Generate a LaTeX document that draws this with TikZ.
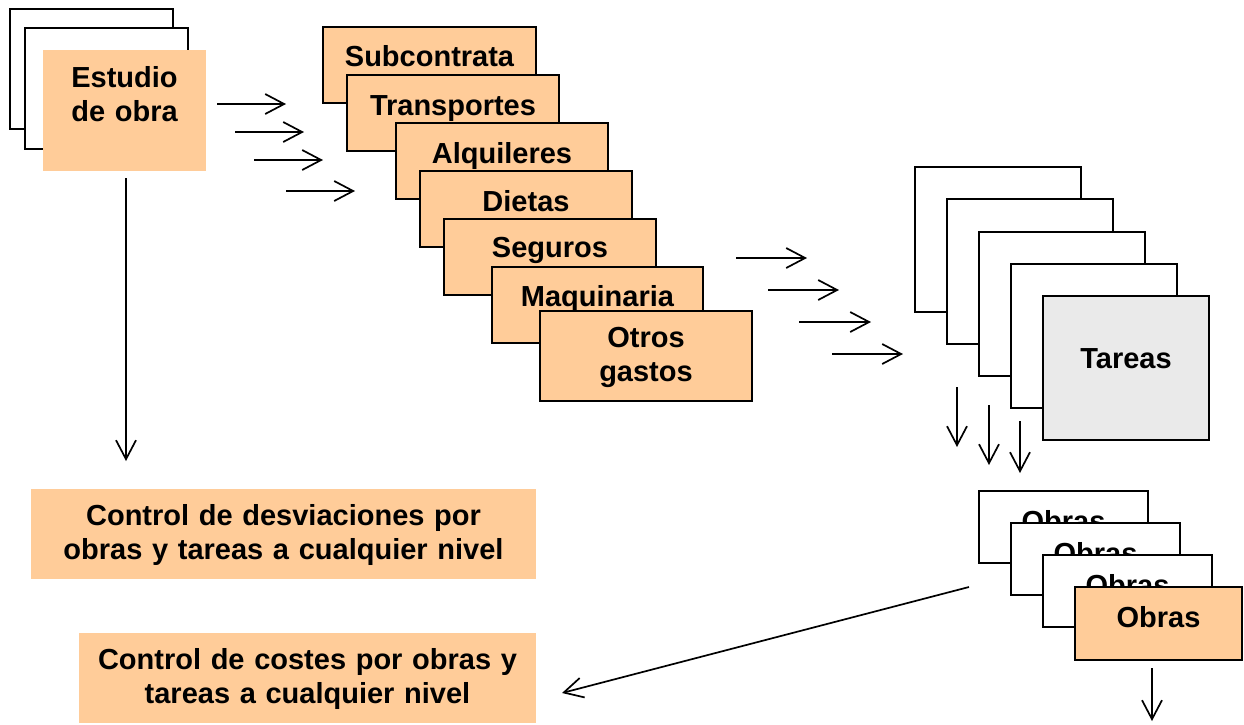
\documentclass[tikz,border=0pt]{standalone}
\usepackage{fontspec}
\setmainfont{Liberation Sans}
\usetikzlibrary{arrows.meta}
\newdimen\px \px=0.5pt
\definecolor{boxorange}{HTML}{FFCC99}
\definecolor{boxgray}{HTML}{EAEAEA}
\begin{document}
\begin{tikzpicture}[x=0.5pt,y=-0.5pt,
  every node/.style={inner sep=0pt, outer sep=0pt, anchor=north west,
    font=\fontsize{14.5}{17.4}\selectfont\bfseries, align=center},
  wbox/.style n args={3}{text width=#1\px, text height=#2\px, text depth=#3\px},
  blank/.style={draw=black, line width=1.1pt, fill=white},
  costbox/.style={draw=black, line width=1.1pt, fill=boxorange},
  softbox/.style={fill=boxorange},
  graybox/.style={draw=black, line width=1.1pt, fill=boxgray},
  conn/.style={line width=0.85pt, -{Straight Barb[length=9.5pt,width=10pt]}}]
\useasboundingbox (0,0) rectangle (1244,724);

% Estudio de obra stack
\node[blank, wbox={163}{120}{0}] (est1) at (10,9) {};
\node[blank, wbox={163}{121}{0}] (est2) at (25,28) {};
\node[softbox, wbox={163}{37}{84}] (est) at (43,50) {Estudio\\de obra};

% cost stack
\node[costbox, wbox={213}{39}{37}] (sub) at (323,27) {Subcontrata};
\node[costbox, wbox={212}{40}{36}] (tra) at (347,75) {Transportes};
\node[costbox, wbox={212}{40}{36}] (alq) at (396,123) {Alquileres};
\node[costbox, wbox={212}{40}{36}] (die) at (420,171) {Dietas};
\node[costbox, wbox={212}{38}{38}] (seg) at (444,219) {Seguros};
\node[costbox, wbox={211}{39}{37}] (maq) at (492,267) {Maquinaria};
\node[costbox, wbox={212}{36}{54}] (otr) at (540,311) {Otros\\gastos};

% Tareas stack
\node[blank, wbox={166}{145}{0}] (ta1) at (915,167) {};
\node[blank, wbox={166}{145}{0}] (ta2) at (947,199) {};
\node[blank, wbox={166}{144}{0}] (ta3) at (979,232) {};
\node[blank, wbox={166}{144}{0}] (ta4) at (1011,264) {};
\node[graybox, wbox={166}{72}{72}] (tar) at (1043,296) {Tareas};

% Obras stack
\node[blank, wbox={169}{40}{32}] (ob1) at (979,491) {Obras};
\node[blank, wbox={169}{40}{32}] (ob2) at (1011,523) {Obras};
\node[blank, wbox={169}{40}{32}] (ob3) at (1043,555) {Obras};
\node[costbox, wbox={167}{40}{33}] (ob4) at (1075,587) {Obras};

% control boxes
\node[softbox, wbox={505}{36}{54}] (cdes) at (31,489) {Control de desviaciones por\\obras y tareas a cualquier nivel};
\node[softbox, wbox={457}{36}{54}] (ccos) at (79,633) {Control de costes por obras y\\tareas a cualquier nivel};

% arrow end points
\coordinate (e1s) at (217,104);  \coordinate (e1e) at (286,104);
\coordinate (e2s) at (235,132);  \coordinate (e2e) at (304,132);
\coordinate (e3s) at (254,160);  \coordinate (e3e) at (323,160);
\coordinate (e4s) at (286,191);  \coordinate (e4e) at (355,191);
\coordinate (c1s) at (736,258);  \coordinate (c1e) at (807,258);
\coordinate (c2s) at (768,290);  \coordinate (c2e) at (839,290);
\coordinate (c3s) at (799,322);  \coordinate (c3e) at (871,322);
\coordinate (c4s) at (832,354);  \coordinate (c4e) at (903,354);
\coordinate (d0s) at (126,178);  \coordinate (d0e) at (126,461);
\coordinate (d1s) at (957,387);  \coordinate (d1e) at (957,447);
\coordinate (d2s) at (989,405);  \coordinate (d2e) at (989,465);
\coordinate (d3s) at (1020,421); \coordinate (d3e) at (1020,473);
\coordinate (d4s) at (1152,668); \coordinate (d4e) at (1152,721);
\coordinate (gs) at (969,587);   \coordinate (ge) at (562,693);

\draw[conn] (e1s) -- (e1e);
\draw[conn] (e2s) -- (e2e);
\draw[conn] (e3s) -- (e3e);
\draw[conn] (e4s) -- (e4e);
\draw[conn] (c1s) -- (c1e);
\draw[conn] (c2s) -- (c2e);
\draw[conn] (c3s) -- (c3e);
\draw[conn] (c4s) -- (c4e);
\draw[conn] (d0s) -- (d0e);
\draw[conn] (d1s) -- (d1e);
\draw[conn] (d2s) -- (d2e);
\draw[conn] (d3s) -- (d3e);
\draw[conn] (d4s) -- (d4e);
\draw[conn] (gs) -- (ge);
\end{tikzpicture}
\end{document}
